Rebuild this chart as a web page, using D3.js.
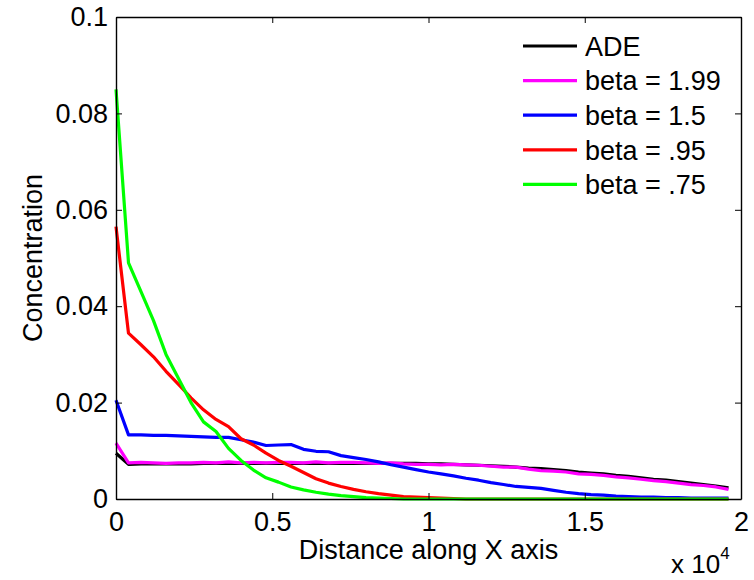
<!DOCTYPE html>
<html>
<head>
<meta charset="utf-8">
<style>
  body { margin: 0; background: #fff; }
  svg { font-family: 'Liberation Sans', Arial, Helvetica, sans-serif; }
  .tick text { font-size: 27px; fill: #000; }
</style>
</head>
<body>
<svg width="754" height="580"></svg>
<script src="https://d3js.org/d3.v7.min.js"></script>
<script>
// distance in units of 1e4, sampled every 400
const xs = d3.range(0, 50).map(i => i * 0.04);

const ade = [0.0095, 0.0072, 0.0073, 0.0073, 0.0073, 0.0073, 0.0073, 0.0074, 0.0074, 0.0074,
  0.0074, 0.0074, 0.0074, 0.0074, 0.0074, 0.0074, 0.0074, 0.0074, 0.0074, 0.0074,
  0.0074, 0.0074, 0.0074, 0.0074, 0.0074, 0.0073, 0.0073, 0.0072, 0.0071, 0.0070,
  0.0069, 0.0068, 0.0066, 0.0064, 0.0063, 0.0061, 0.0059, 0.0056, 0.0054, 0.0052,
  0.0049, 0.0047, 0.0044, 0.0041, 0.0039, 0.0036, 0.0033, 0.0030, 0.0027, 0.0023];

const beta199 = [0.0116, 0.0075, 0.0076, 0.0075, 0.0074, 0.0075, 0.0075, 0.0076, 0.0075, 0.0077,
  0.0075, 0.0076, 0.0075, 0.0076, 0.0076, 0.0075, 0.0077, 0.0075, 0.0076, 0.0076,
  0.0075, 0.0074, 0.0075, 0.0073, 0.0072, 0.0072, 0.0071, 0.0072, 0.0071, 0.0070,
  0.0068, 0.0066, 0.0066, 0.0062, 0.0059, 0.0058, 0.0056, 0.0052, 0.0051, 0.0049,
  0.0046, 0.0044, 0.0041, 0.0038, 0.0036, 0.0033, 0.0030, 0.0028, 0.0025, 0.0020];

const beta15 = [0.0205, 0.0133, 0.0133, 0.0132, 0.0132, 0.0131, 0.0130, 0.0129, 0.0128, 0.0128,
  0.0123, 0.0118, 0.0111, 0.0112, 0.0113, 0.0103, 0.0099, 0.0098, 0.0090, 0.0086,
  0.0082, 0.0077, 0.0071, 0.0066, 0.0061, 0.0056, 0.0052, 0.0048, 0.0043, 0.0039,
  0.0034, 0.0030, 0.0026, 0.0024, 0.0022, 0.0018, 0.0014, 0.0011, 0.0009, 0.0008,
  0.0006, 0.0005, 0.0004, 0.0004, 0.0003, 0.0003, 0.0002, 0.0002, 0.0002, 0.0002];

const beta095 = [0.0565, 0.0344, 0.0320, 0.0295, 0.0265, 0.0238, 0.0210, 0.0185, 0.0165, 0.0150,
  0.0125, 0.0112, 0.0095, 0.0080, 0.0068, 0.0055, 0.0042, 0.0033, 0.0026, 0.0020,
  0.0015, 0.0011, 0.0008, 0.0005, 0.0004, 0.0003, 0.0002, 0.0001, 0, 0,
  0, 0, 0, 0, 0, 0, 0, 0, 0, 0, 0, 0, 0, 0, 0, 0, 0, 0, 0, 0];

const beta075 = [0.0850, 0.0490, 0.0430, 0.0370, 0.0300, 0.0250, 0.0200, 0.0160, 0.0140, 0.0105,
  0.0080, 0.0060, 0.0044, 0.0035, 0.0025, 0.0019, 0.0014, 0.0010, 0.0007, 0.0005,
  0.0003, 0.0002, 0.0001, 0, 0, 0, 0, 0, 0, 0,
  0, 0, 0, 0, 0, 0, 0, 0, 0, 0, 0, 0, 0, 0, 0, 0, 0, 0, 0, 0];

const seriesNames = ["ADE", "beta = 1.99", "beta = 1.5", "beta = .95", "beta = .75"];
const seriesColors = ["#000000", "#ff00ff", "#0000ff", "#ff0000", "#00ff00"];
const seriesValues = [ade, beta199, beta15, beta095, beta075];

const xTicks = [0, 0.5, 1, 1.5, 2];
const yTicks = [0, 0.02, 0.04, 0.06, 0.08, 0.1];

const margin = { left: 116, right: 13, top: 17, bottom: 81 };
const width = 754, height = 580;

let svg = d3.select("svg");

let x = d3.scaleLinear().domain([0, 2]).range([margin.left, width - margin.right]);
let y = d3.scaleLinear().domain([0, 0.1]).range([height - margin.bottom, margin.top]);

// lines first, axes box on top
let line = d3.line()
  .x((d, i) => x(xs[i]))
  .y(d => y(d));

svg.append("g")
  .selectAll("path")
  .data(seriesValues)
  .join("path")
  .attr("d", d => line(d))
  .attr("fill", "none")
  .attr("stroke", (d, i) => seriesColors[i])
  .attr("stroke-width", 3.2)
  .attr("stroke-linejoin", "round");

// bottom axis
let xAxis = svg.append("g")
  .attr("transform", `translate(0,${y(0)})`)
  .call(d3.axisBottom(x).tickValues(xTicks).tickSizeInner(-6).tickSizeOuter(0).tickPadding(13)
    .tickFormat(d => d));
// left axis
let yAxis = svg.append("g")
  .attr("transform", `translate(${x(0)},0)`)
  .call(d3.axisLeft(y).tickValues(yTicks).tickSizeInner(-6).tickSizeOuter(0).tickPadding(8)
    .tickFormat(d => d));
// mirrored top/right
svg.append("g")
  .attr("transform", `translate(0,${y(0.1)})`)
  .call(d3.axisTop(x).tickValues(xTicks).tickSizeInner(-6).tickSizeOuter(0).tickFormat(""));
svg.append("g")
  .attr("transform", `translate(${x(2)},0)`)
  .call(d3.axisRight(y).tickValues(yTicks).tickSizeInner(-6).tickSizeOuter(0).tickFormat(""));

svg.selectAll(".domain").attr("stroke", "#000").attr("stroke-width", 1.4);
svg.selectAll(".tick line").attr("stroke", "#000");
xAxis.selectAll(".tick text").attr("dy", "0.72em");

// axis labels
svg.append("text")
  .attr("x", (x(0) + x(2)) / 2)
  .attr("y", 559)
  .attr("text-anchor", "middle")
  .style("font-size", "27px")
  .text("Distance along X axis");

svg.append("text")
  .attr("transform", `translate(42,${(y(0) + y(0.1)) / 2}) rotate(-90)`)
  .attr("text-anchor", "middle")
  .style("font-size", "27px")
  .text("Concentration");

let expo = svg.append("text")
  .attr("x", 671)
  .attr("y", 573)
  .style("font-size", "26px");
expo.append("tspan").text("x 10");
expo.append("tspan").attr("dy", -14).style("font-size", "17px").text("4");

// legend
let legend = svg.append("g").attr("transform", "translate(523,46)");
let rows = legend.selectAll("g")
  .data(seriesNames)
  .join("g")
  .attr("transform", (d, i) => `translate(0,${i * 34.6})`);
rows.append("line")
  .attr("x1", 0).attr("x2", 54)
  .attr("stroke", (d, i) => seriesColors[i])
  .attr("stroke-width", 3.2);
rows.append("text")
  .attr("x", 62)
  .attr("dy", "0.36em")
  .style("font-size", "27px")
  .text(d => d);
</script>
</body>
</html>
